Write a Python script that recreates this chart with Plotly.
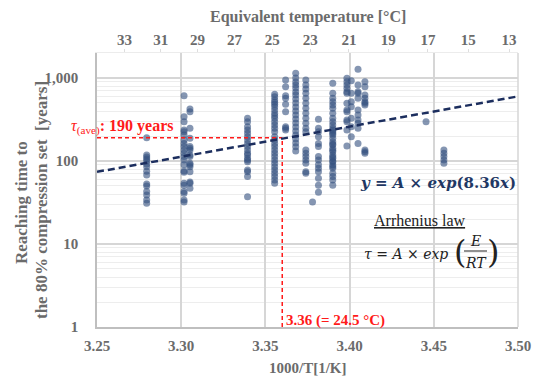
import plotly.graph_objects as go

# ---------------- data ----------------
# scatter columns: x position (1000/T) and reaching-time values [years]
col_x = [3.2795, 3.3017, 3.3052, 3.3394, 3.3555, 3.3620, 3.3680, 3.3740,
         3.3780, 3.3815, 3.3900, 3.3984, 3.4010, 3.4050, 3.4091, 3.4454, 3.4560]
col_a = [190, 118, 112, 106, 100, 92, 85, 75, 68, 53, 50, 43, 39, 34, 31]
col_b1 = [612, 342, 297, 236, 225, 206, 179, 163, 149, 136, 124, 113, 103, 90, 76, 73, 54, 51, 43, 41, 34, 32]
col_b2 = [423, 393, 248, 188, 149, 142, 136, 118, 113, 94, 90, 85, 74, 56, 54, 47]
col_c = [327, 297, 259, 236, 216, 196, 179, 163, 149, 136, 124, 118, 108, 103, 98, 78, 74, 65, 37]
col_d = [636, 595, 543, 509, 482, 451, 411, 375, 351, 327, 297, 271, 248, 225, 196, 179, 163,
         149, 136, 124, 113, 103, 94, 85, 78, 71, 65, 59, 54]
col_e = [946, 785, 612, 569, 482, 393, 259, 248, 236]
col_f = [1140, 1000, 895, 824, 758, 678, 624, 558, 500, 448, 400, 358, 321, 287, 257, 230,
         206, 184, 165, 148, 132]
col_g = [946, 824, 736, 654, 569, 495, 431, 375, 327, 285, 248, 225, 136, 124, 113, 103, 94, 74, 71]
col_g2 = [32]
col_h = [318, 248, 225, 196, 163, 149, 113, 103, 90, 82, 74, 62, 51, 42]
col_i = [863, 654, 569, 518, 473, 431, 375, 327, 297, 271, 248, 225, 206, 188, 171, 156, 142,
         129, 118, 108, 98, 90, 82, 71, 65, 59, 51, 235, 215, 160, 135, 112, 100, 86]
col_j = [991, 902, 824, 751, 684, 654, 495, 411, 393, 312, 297, 236, 152]
col_j2 = [927, 654, 518, 451, 327, 259, 196]
col_k = [1273, 824, 684, 654, 569, 411, 358, 312, 285, 248, 163]
col_l = [902, 785, 624, 569, 518, 495, 473, 136, 129, 124]
col_m = [297]
col_n = [136, 124, 113, 103, 94]
col_y = [col_a, col_b1, col_b2, col_c, col_d, col_e, col_f, col_g, col_g2, col_h, col_i,
         col_j, col_j2, col_k, col_l, col_m, col_n]

# Arrhenius trend line  y = A*exp(8.36x): end points
trend_x = [3.25, 3.50]
trend_y = [74, 600]

# average reaching time reference
ref_x = 3.36
ref_y = 190

# axes
x_ticks = [3.25, 3.30, 3.35, 3.40, 3.45, 3.50]
y_ticks = [1, 10, 100, 1000]
y_ticktext = ["1", "10", "100", "1,000"]
y_minor = [m * d for d in (1, 10, 100) for m in range(2, 10)] + [2000]
temps_c = [33, 31, 29, 27, 25, 23, 21, 19, 17, 15, 13]

# ---------------- figure ----------------
xs, ys = [], []
for cx, vals in zip(col_x, col_y):
    xs += [cx] * len(vals)
    ys += vals

SERIF = "Liberation Serif, Times New Roman, serif"
MATH = "DejaVu Serif, serif"
GREY = "#6b6b6b"

fig = go.Figure()
fig.add_trace(go.Scatter(
    x=xs, y=ys, mode="markers",
    marker=dict(size=7, color="#34507f", opacity=0.6, line=dict(width=0)),
    showlegend=False, hoverinfo="skip"))

# red reference lines
fig.add_trace(go.Scatter(x=[x_ticks[0], ref_x], y=[ref_y, ref_y], mode="lines",
                         line=dict(color="#ff1a1a", width=1.5, dash="4px,3px"),
                         showlegend=False, hoverinfo="skip"))
fig.add_trace(go.Scatter(x=[ref_x, ref_x], y=[y_ticks[0], ref_y], mode="lines",
                         line=dict(color="#ff1a1a", width=1.5, dash="4px,3px"),
                         showlegend=False, hoverinfo="skip"))

# trend line
fig.add_trace(go.Scatter(x=trend_x, y=trend_y, mode="lines",
                         line=dict(color="#1c2e5e", width=2.5, dash="7px,4px"),
                         showlegend=False, hoverinfo="skip"))

# invisible trace on top axis
fig.add_trace(go.Scatter(x=trend_x, y=trend_y, xaxis="x2", mode="markers",
                         marker=dict(opacity=0), showlegend=False, hoverinfo="skip"))

top_vals = [1000.0 / (t + 273.15) for t in temps_c]

fig.update_layout(
    width=537, height=376,
    margin=dict(l=97, r=19, t=53, b=49, autoexpand=False),
    paper_bgcolor="white", plot_bgcolor="white",
    font=dict(family=SERIF, color=GREY),
    xaxis=dict(
        range=[3.25, 3.50], tickvals=x_ticks, ticktext=[f"{v:.2f}" for v in x_ticks],
        showgrid=True, gridcolor="#d6d6d6", gridwidth=1.5,
        showline=True, linecolor="#bfbfbf", linewidth=1.5, mirror=False,
        zeroline=False, ticks="", ticklabelstandoff=4,
        tickfont=dict(family=SERIF, size=15, color=GREY, weight="bold"),
    ),
    xaxis2=dict(
        overlaying="x", side="top", range=[3.25, 3.50],
        tickvals=top_vals, ticktext=[str(t) for t in temps_c],
        showgrid=False, zeroline=False,
        showline=True, linecolor="#ececec", linewidth=1,
        ticks="outside", ticklen=3, tickcolor="#dedede", ticklabelstandoff=-2,
        tickfont=dict(family=SERIF, size=15, color=GREY, weight="bold"),
    ),
    yaxis=dict(
        type="log", range=[0, 3.301],
        tickvals=y_ticks, ticktext=y_ticktext,
        showgrid=True, gridcolor="#d6d6d6", gridwidth=1.5,
        minor=dict(tickvals=y_minor, showgrid=True, gridcolor="#ededed", gridwidth=1, ticks=""),
        showline=True, linecolor="#bfbfbf", linewidth=1.5,
        zeroline=False, ticks="", ticklabelstandoff=14,
        tickfont=dict(family=SERIF, size=15, color=GREY, weight="bold"),
    ),
)

# right border
fig.add_shape(type="line", xref="paper", yref="paper", x0=1, x1=1, y0=0, y1=1,
              line=dict(color="#d6d6d6", width=1.5))


def px2paper(px, py):
    return (px - 97) / 421.0, (327 - py) / 274.0


anns = []
# top title
x, y = px2paper(315, 17)
anns.append(dict(x=0.5, y=y, text="<b>Equivalent temperature [°C]</b>", font=dict(size=16, color=GREY)))
# x title
x, y = px2paper(308, 368)
anns.append(dict(x=0.5, y=y, text="<b>1000/T[1/K]</b>", font=dict(size=15, color=GREY)))
# y title (two rotated lines)
x, y = px2paper(21, 203)
anns.append(dict(x=x, y=y, textangle=-90, text="<b>Reaching time to</b>",
                 font=dict(size=17, color=GREY)))
x, y = px2paper(41, 200)
anns.append(dict(x=x, y=y, textangle=-90,
                 text="<b>the 80% compression set\u00a0\u00a0[years]</b>",
                 font=dict(size=17, color=GREY)))
# tau average label
x, y = px2paper(69, 127)
anns.append(dict(x=x, y=y, xanchor="left",
                 text="<i>τ</i><sub>(ave)</sub><b>: 190 years</b>",
                 font=dict(size=16, color="#ff1a1a")))
# 3.36 label
x, y = px2paper(284, 320)
anns.append(dict(x=x, y=y, xanchor="left",
                 text="<b>3.36 (= 24.5 °C)</b>",
                 font=dict(size=15, color="#ff1a1a")))
# fitted equation
x, y = px2paper(438, 183)
anns.append(dict(x=x, y=y,
                 text="<b><i>y</i> = <i>A</i> × <i>exp</i>(8.36<i>x</i>)</b>",
                 font=dict(size=15, color="#1f3864", family=MATH)))
# Arrhenius law
x, y = px2paper(420, 220)
anns.append(dict(x=x, y=y, text="<u>Arrhenius law</u>", font=dict(size=16, color="#222222")))
# tau = A x exp
x, y = px2paper(406, 254)
anns.append(dict(x=x, y=y, text="<i>τ</i> = <i>A</i> × <i>exp</i>",
                 font=dict(size=14, color="#222222", family=MATH)))
x, y = px2paper(460, 252)
anns.append(dict(x=x, y=y, text="(", font=dict(size=32, color="#222222", family=MATH)))
x, y = px2paper(493, 252)
anns.append(dict(x=x, y=y, text=")", font=dict(size=32, color="#222222", family=MATH)))
x, y = px2paper(475, 241)
anns.append(dict(x=x, y=y, text="<i>E</i>", font=dict(size=14, color="#222222", family=MATH)))
x, y = px2paper(476, 263)
anns.append(dict(x=x, y=y, text="<i>RT</i>", font=dict(size=14, color="#222222", family=MATH)))

for a in anns:
    a.update(xref="paper", yref="paper", showarrow=False)
    a.setdefault("xanchor", "center")
    a.setdefault("yanchor", "middle")
    a["font"].setdefault("family", SERIF)
fig.update_layout(annotations=anns)

x0, y0 = px2paper(464, 251)
x1, _ = px2paper(487, 251)
fig.add_shape(type="line", xref="paper", yref="paper", x0=x0, x1=x1, y0=y0, y1=y0,
              line=dict(color="#222222", width=1))

fig.write_html("out.html")
